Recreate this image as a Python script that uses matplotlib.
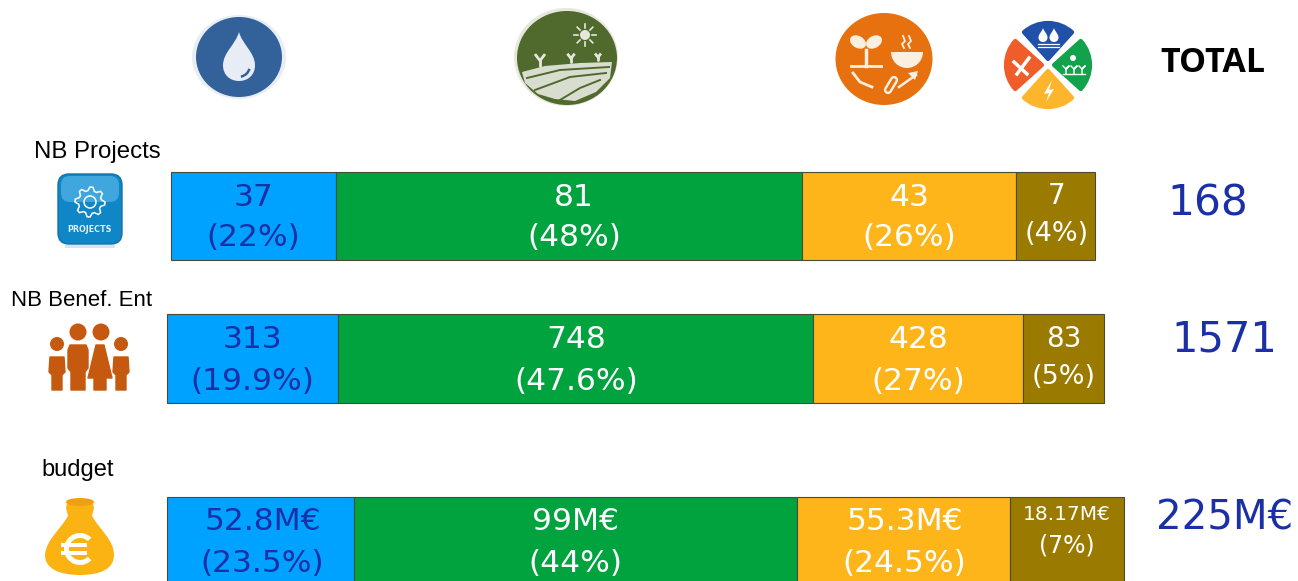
import numpy as np
import matplotlib
matplotlib.use('Agg')
import matplotlib.pyplot as plt
from matplotlib.patches import Ellipse, Circle, Polygon, Wedge, FancyBboxPatch, PathPatch, Rectangle
from matplotlib.path import Path

row_names = ['NB Projects', 'NB Benef. Ent', 'budget']
# bar segment lengths as drawn in the picture (not proportional to the counts)
seg_projects = [165, 466, 214, 79]
seg_benef = [171, 475, 210, 81]
seg_budget = [187, 443, 213, 114]
text_projects = [['37', '(22%)'], ['81', '(48%)'], ['43', '(26%)'], ['7', '(4%)']]
text_benef = [['313', '(19.9%)'], ['748', '(47.6%)'], ['428', '(27%)'], ['83', '(5%)']]
text_budget = [['52.8M€', '(23.5%)'], ['99M€', '(44%)'], ['55.3M€', '(24.5%)'], ['18.17M€', '(7%)']]
totals = ['168', '1571', '225M€']

colors = ['#00A2FF', '#00A33E', '#FDB51A', '#9A7B00']
text_cols = ['#1B2FA6', 'white', 'white', 'white']
NAVY = '#1B2FA6'

fig = plt.figure(figsize=(12.98, 5.81), dpi=100)
ax = fig.add_axes([0, 0, 1, 1])
ax.set_xlim(0, 1298)
ax.set_ylim(581, 0)
ax.axis('off')

###############################################################################
# bars
rows = [(seg_projects, text_projects, 171, 215.5, 88, 197, 238, 234, [0, 5, 0, 1]),
        (seg_benef, text_benef, 167, 358.5, 89, 340, 382, 377, [0, 1, 0, 0]),
        (seg_budget, text_budget, 167, 542, 90, 522, 564, 546, [2, 0, 1, 0])]
for seg, txt, x0, yc, h, y1, y2, y2_small, shift in rows:
    lefts = x0 + np.concatenate(([0], np.cumsum(seg)[:-1]))
    ax.barh(yc, seg, left=lefts, height=h, color=colors, edgecolor='#4A4A3A', linewidth=0.8)
    for i in range(4):
        xc = lefts[i] + seg[i] / 2.0 + shift[i]
        small = i == 3
        if txt[i][0] == '18.17M€':
            ax.text(xc, 514, txt[i][0], color=text_cols[i], fontsize=14.5, ha='center', va='center')
            ax.text(xc, y2_small, txt[i][1], color=text_cols[i], fontsize=17, ha='center', va='center')
        else:
            ax.text(xc, y1 - (1 if small else 0), txt[i][0], color=text_cols[i],
                    fontsize=20 if small else 22.5, ha='center', va='center')
            ax.text(xc, y2_small if small else y2, txt[i][1], color=text_cols[i],
                    fontsize=19.5 if small else 22.5, ha='center', va='center')

###############################################################################
# row names and totals
for name, xc, yc, fs in zip(row_names, [97, 82, 78], [152, 300, 470], [17.3, 16, 17]):
    ax.text(xc, yc, name, family='Liberation Sans', fontsize=fs, color='black', ha='center', va='center')
ax.text(1213, 63, 'TOTAL', family='Open Sans', fontweight='bold', fontsize=24.5, color='black', ha='center', va='center')
for t, xc, yc, fs in zip(totals, [1208, 1224, 1225], [203, 339, 518], [30.5, 30, 29]):
    ax.text(xc, yc, t, color=NAVY, fontsize=fs, ha='center', va='center')


###############################################################################
# icons
def drop(cx, top, bot, w, col):
    h = bot - top
    verts = [(cx, top), (cx + w * 0.2, top + h * 0.25), (cx + w, top + h * 0.42), (cx + w, top + h * 0.68),
             (cx + w, top + h * 0.88), (cx + w * 0.55, bot), (cx, bot),
             (cx - w * 0.55, bot), (cx - w, top + h * 0.88), (cx - w, top + h * 0.68),
             (cx - w, top + h * 0.42), (cx - w * 0.2, top + h * 0.25), (cx, top)]
    codes = [Path.MOVETO] + [Path.CURVE4] * 12
    ax.add_patch(PathPatch(Path(verts, codes), facecolor=col, edgecolor='none'))


def sprout(cx, base, s, col, lw=2):
    ax.plot([cx, cx], [base, base - s], color=col, lw=lw, solid_capstyle='round')
    ax.plot([cx - s * 0.7, cx, cx + s * 0.7], [base - s * 1.8, base - s * 0.9, base - s * 1.8], color=col, lw=lw)


# water
ax.add_patch(Ellipse((239, 57), 94, 84, facecolor='#E9EDF4', edgecolor='none'))
ax.add_patch(Ellipse((239, 57), 86, 80, facecolor='#33619A', edgecolor='none'))
drop(239, 32, 81, 16, '#E8ECF5')
ax.add_patch(Wedge((239, 66), 12, 15, 80, width=2.5, facecolor='#33619A', edgecolor='none'))

# field
ax.add_patch(Ellipse((566, 57), 104, 98, facecolor='#E6E8DE', edgecolor='none'))
ax.add_patch(Ellipse((567, 58), 100, 94, facecolor='#4F6A2C', edgecolor='none'))
field = Polygon([(525, 83), (522, 72), (545, 66), (580, 63), (612, 62), (610, 78), (596, 92), (575, 101), (555, 99), (538, 94)],
                facecolor='#D9DDCF', edgecolor='none')
ax.add_patch(field)
for pts in ([(527, 78), (560, 70), (609, 67)], [(535, 90), (570, 77), (606, 73)], [(560, 100), (580, 88), (600, 80)]):
    xs, ys = zip(*pts)
    ax.plot(xs, ys, color='#4F6A2C', lw=1.4)
ax.add_patch(Circle((585, 35), 5, facecolor='#E6E8DE', edgecolor='none'))
for a in np.arange(0, 360, 45):
    ax.plot([585 + 7 * np.cos(np.radians(a)), 585 + 11 * np.cos(np.radians(a))],
            [35 + 7 * np.sin(np.radians(a)), 35 + 11 * np.sin(np.radians(a))], color='#E6E8DE', lw=1.2)
sprout(540, 66, 6, '#E6E8DE')
sprout(571, 62, 4, '#E6E8DE')
sprout(598, 60, 3, '#E6E8DE')

# food chain
W = '#FBEFE0'
ax.add_patch(Ellipse((884, 59), 97, 92, facecolor='#E8710F', edgecolor='none'))
ax.plot([851, 881], [66, 66], color=W, lw=2)
ax.plot([866, 866], [66, 50], color=W, lw=2.5)
ax.add_patch(Ellipse((858, 42), 17, 12, angle=30, facecolor=W, edgecolor='none'))
ax.add_patch(Ellipse((874, 42), 17, 12, angle=-30, facecolor=W, edgecolor='none'))
ax.add_patch(Wedge((907, 52), 16, 0, 180, facecolor=W, edgecolor='none'))
for xs in (903, 909):
    ax.plot([xs, xs + 2, xs - 1, xs + 1], [36, 41, 44, 48], color=W, lw=1.3)
ax.plot([853, 860, 872], [73, 82, 87], color=W, lw=2)
ax.plot([888, 894], [90, 80], color=W, lw=6, solid_capstyle='round')
ax.plot([888, 894], [90, 80], color='#E8710F', lw=2.5, solid_capstyle='round')
ax.plot([899, 916], [87, 75], color=W, lw=1.8)
ax.add_patch(Polygon([(918, 71), (908, 73), (915, 80)], facecolor=W, edgecolor='none'))

# nexus, four petals
cen = (1048, 65)
petals = [(225, 315, '#2150A8'), (315, 405, '#12A24B'), (45, 135, '#FDB52B'), (135, 225, '#EE5D2A')]
for a1, a2, col in petals:
    ang = np.radians((a1 + a2) / 2.0)
    c2 = (cen[0] + 6 * np.cos(ang), cen[1] + 6 * np.sin(ang))
    ax.add_patch(Wedge(c2, 36, a1 + 3, a2 - 3, facecolor=col, edgecolor=col, lw=3, joinstyle='round'))
drop(1043, 28, 42, 4.5, 'white')
drop(1054, 28, 42, 4.5, 'white')
for yw in (44, 47):
    ax.plot([1038, 1059], [yw, yw], color='white', lw=0.9)
ax.add_patch(Circle((1073, 58), 3, facecolor='white', edgecolor='none'))
ax.plot([1063, 1085], [74, 74], color='white', lw=1)
for xs in (1066, 1074, 1082):
    ax.plot([xs - 3, xs, xs + 3, xs, xs], [66, 69, 66, 69, 74], color='white', lw=1)
ax.add_patch(Polygon([(1052, 80), (1044, 94), (1049, 93), (1046, 102), (1054, 89), (1049, 90)], facecolor='white', edgecolor='none'))
ax.plot([1014, 1027], [62, 74], color='white', lw=2.5)
ax.plot([1029, 1017], [58, 74], color='white', lw=2.5)

# projects
ax.add_patch(FancyBboxPatch((58, 174), 64, 70, boxstyle='round,pad=0,rounding_size=11', facecolor='#0F86C6', edgecolor='#1272A8', lw=1))
ax.add_patch(FancyBboxPatch((61, 176), 58, 26, boxstyle='round,pad=0,rounding_size=9', facecolor='#3FA6DE', edgecolor='none'))
ax.add_patch(Rectangle((65, 245), 50, 3, facecolor='#D3E6F2', edgecolor='none'))
gear_ang = np.radians(np.arange(0, 360, 11.25))
gear_r = np.where(np.arange(32) % 4 < 2, 15, 11.5)
ax.add_patch(Polygon(np.column_stack((90 + gear_r * np.cos(gear_ang), 202 + gear_r * np.sin(gear_ang))),
                     facecolor='none', edgecolor='white', lw=1.1))
ax.add_patch(Circle((90, 202), 6, facecolor='none', edgecolor='white', lw=1.1))
ax.text(90, 230, 'PROJECTS', color='#DDF0FA', fontsize=5.8, fontweight='bold', ha='center', va='center')

# people
BR = '#C5590F'
for cx, cy, r in [(57, 344, 7), (78, 332, 8.5), (101, 332, 8.5), (121, 344, 7)]:
    ax.add_patch(Circle((cx, cy), r, facecolor=BR, edgecolor='none'))
kid = [(-7, 357), (7, 357), (8, 372), (5, 375), (5, 390), (-5, 390), (-5, 375), (-8, 372)]
man = [(-8, 345), (8, 345), (10, 350), (10, 368), (7, 372), (7, 390), (-7, 390), (-7, 372), (-10, 368), (-10, 350)]
woman = [(-4, 345), (4, 345), (12, 378), (6, 378), (6, 390), (-6, 390), (-6, 378), (-12, 378)]
for cx, shape in [(57, kid), (78, man), (100, woman), (121, kid)]:
    ax.add_patch(Polygon([(cx + a, b) for a, b in shape], facecolor=BR, edgecolor=BR, lw=1, joinstyle='round'))

# money bag
bag = [(67, 503), (66, 508), (67, 512), (68, 516), (60, 530), (46, 540), (45, 555), (45, 568), (58, 575), (80, 575),
       (102, 575), (114, 568), (114, 555), (114, 540), (100, 530), (92, 516), (93, 512), (94, 508), (93, 503), (67, 503)]
bag_codes = [Path.MOVETO, Path.LINETO, Path.LINETO, Path.LINETO] + [Path.CURVE4] * 12 + [Path.LINETO] * 4
ax.add_patch(PathPatch(Path(bag, bag_codes), facecolor='#FBB313', edgecolor='none'))
ax.add_patch(Ellipse((80, 502), 28, 8, facecolor='#F29F0F', edgecolor='none'))
ax.add_patch(Wedge((80, 549), 16, 45, 315, width=5, facecolor='white', edgecolor='none'))
ax.add_patch(Rectangle((61, 543), 26, 4, facecolor='white', edgecolor='none'))
ax.add_patch(Rectangle((61, 551), 26, 4, facecolor='white', edgecolor='none'))

plt.savefig('out.png', dpi=100)
